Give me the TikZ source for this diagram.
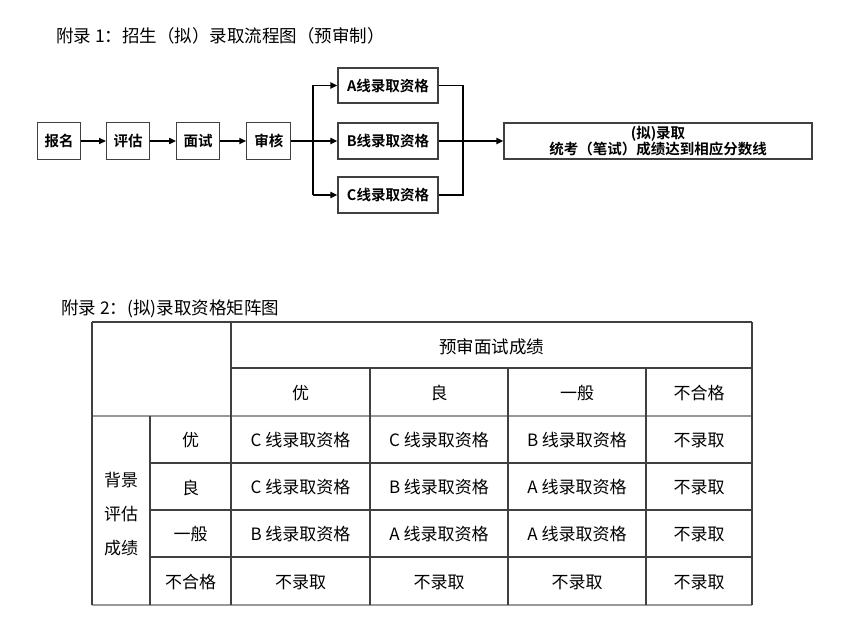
\documentclass[tikz,border=0pt]{standalone}
\usepackage{fontspec}
\setmainfont{Noto Sans CJK SC}[BoldFont={Noto Sans CJK SC Bold}]
\usepackage{tikz}
\usetikzlibrary{arrows.meta,calc,positioning}
\tikzset{>=Triangle, node distance=25pt}

\begin{document}
\begin{tikzpicture}[x=1pt,y=-1pt]

	% Definitions.
	\tikzstyle{every node}=[
		inner sep=1pt,
		text=black
	]
	\tikzstyle{flowbox}=[draw=black!75, line width=1.1pt, minimum height=37pt, font=\bfseries\fontsize{14.5}{17}\selectfont]
	\tikzstyle{flowline}=[line width=1.8pt]
	\tikzstyle{gridline}=[draw=black!75, line width=1.2pt]
	\tikzstyle{heavyline}=[draw=black!40, line width=2pt]
	\tikzstyle{cell}=[font=\fontsize{17}{20}\selectfont]
	\def\FlowArrow{Triangle[length=7pt,width=6pt]};
	\def\BranchX{313};
	\def\MergeX{463};

	\useasboundingbox (0,0) rectangle (851,636);

	% ---------- Titles ---------

	\node[anchor=west,font=\fontsize{17.5}{20}\selectfont] (title1) at (55,36) {附录 1：招生（拟）录取流程图（预审制）};
	\node[anchor=west,font=\fontsize{17.5}{20}\selectfont] (title2) at (60,309) {附录 2：(拟)录取资格矩阵图};

	% ---------- Flow Chart ---------

	\node[flowbox,minimum width=43pt] (signup) at (59,141) {报名};
	\node[flowbox,minimum width=43pt,right=25pt of signup] (assess) {评估};
	\node[flowbox,minimum width=43pt,right=26pt of assess] (interview) {面试};
	\node[flowbox,minimum width=44pt,right=26pt of interview] (review) {审核};

	\node[flowbox,minimum width=100pt,minimum height=35pt] (lineA) at (388,85.5) {A线录取资格};
	\node[flowbox,minimum width=100pt,minimum height=36pt] (lineB) at (388,141) {B线录取资格};
	\node[flowbox,minimum width=100pt,minimum height=36pt] (lineC) at (388,195) {C线录取资格};

	\node[flowbox,minimum width=308pt,minimum height=36pt,align=center] (admit) at (658,141) {(拟)录取\\[-1pt]统考（笔试）成绩达到相应分数线};

	\coordinate (branch) at (\BranchX,141);
	\coordinate (merge) at (\MergeX,141);

	% Chain.
	\draw[flowline,-{\FlowArrow}] (signup) -- (assess);
	\draw[flowline,-{\FlowArrow}] (assess) -- (interview);
	\draw[flowline,-{\FlowArrow}] (interview) -- (review);

	% Branch.
	\draw[flowline] (review.east) -- (branch);
	\draw[flowline] (branch |- lineA.west) -- (branch |- lineC.west);
	\draw[flowline,-{\FlowArrow}] (branch |- lineA.west) -- (lineA.west);
	\draw[flowline,-{\FlowArrow}] (branch) -- (lineB.west);
	\draw[flowline,-{\FlowArrow}] (branch |- lineC.west) -- (lineC.west);

	% Merge.
	\draw[flowline] (lineA.east) -- (merge |- lineA.east) -- (merge |- lineC.east) -- (lineC.east);
	\draw[flowline,-{\FlowArrow}] (lineB.east) -- (admit.west);

	% ---------- Matrix Table ---------

	% Frame and rules.
	\draw[gridline] (92,322) -- (752,322);
	\draw[gridline] (231,368) -- (752,368);
	\draw[heavyline] (92,416) -- (752,416);
	\foreach \y in {463,510,557}
		\draw[gridline] (150,\y) -- (752,\y);
	\draw[heavyline] (92,605) -- (752,605);
	\draw[gridline] (92,322) -- (92,605);
	\draw[gridline] (752,322) -- (752,605);
	\draw[gridline] (231,322) -- (231,605);
	\draw[gridline] (150,416) -- (150,605);
	\foreach \x in {370,508,646}
		\draw[gridline] (\x,368) -- (\x,605);

	% Header.
	\node[cell,font=\fontsize{17.5}{20}\selectfont] (interviewhead) at (491.5,347) {预审面试成绩};
	\node[cell] (colA) at (300.5,393) {优};
	\node[cell] (colB) at (439,393) {良};
	\node[cell] (colC) at (577,393) {一般};
	\node[cell] (colD) at (699,393) {不合格};

	% Side.
	\node[cell,align=center,font=\fontsize{17}{34}\selectfont] (bghead) at (121,514) {背景\\评估\\成绩};
	\node[cell] (rowA) at (190.5,440.5) {优};
	\node[cell] (rowB) at (190.5,487.5) {良};
	\node[cell] (rowC) at (190.5,534.5) {一般};
	\node[cell] (rowD) at (190.5,582) {不合格};

	% Cells.
	\node[cell] (cellAA) at (300.5,440.5) {C 线录取资格};
	\node[cell] (cellAB) at (439,440.5) {C 线录取资格};
	\node[cell] (cellAC) at (577,440.5) {B 线录取资格};
	\node[cell] (cellAD) at (699,440.5) {不录取};

	\node[cell] (cellBA) at (300.5,487.5) {C 线录取资格};
	\node[cell] (cellBB) at (439,487.5) {B 线录取资格};
	\node[cell] (cellBC) at (577,487.5) {A 线录取资格};
	\node[cell] (cellBD) at (699,487.5) {不录取};

	\node[cell] (cellCA) at (300.5,534.5) {B 线录取资格};
	\node[cell] (cellCB) at (439,534.5) {A 线录取资格};
	\node[cell] (cellCC) at (577,534.5) {A 线录取资格};
	\node[cell] (cellCD) at (699,534.5) {不录取};

	\node[cell] (cellDA) at (300.5,582) {不录取};
	\node[cell] (cellDB) at (439,582) {不录取};
	\node[cell] (cellDC) at (577,582) {不录取};
	\node[cell] (cellDD) at (699,582) {不录取};

\end{tikzpicture}
\end{document}
